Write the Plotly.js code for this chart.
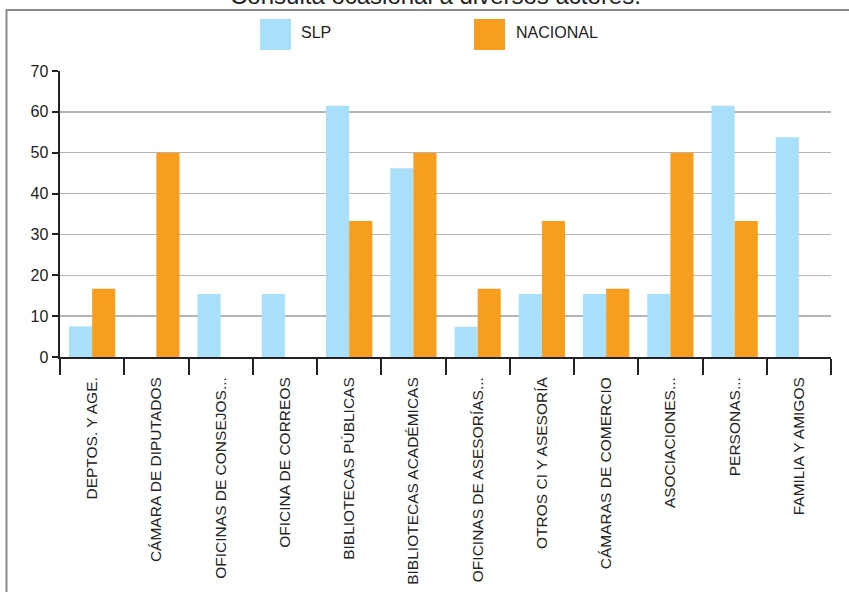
<!DOCTYPE html>
<html>
<head>
<meta charset="utf-8">
<script src="https://cdn.plot.ly/plotly-3.0.1.min.js"></script>
<style>
html,body{margin:0;padding:0;background:#fff;}
#chart{width:849px;height:592px;}
</style>
</head>
<body>
<div id="chart"></div>
<script>
const chartTitle = "Consulta ocasional a diversos actores.";
const categories = [
  "DEPTOS. Y AGE.",
  "CÁMARA DE DIPUTADOS",
  "OFICINAS DE CONSEJOS...",
  "OFICINA DE CORREOS",
  "BIBLIOTECAS PÚBLICAS",
  "BIBLIOTECAS ACADÉMICAS",
  "OFICINAS DE ASESORÍAS...",
  "OTROS CI Y ASESORÍA",
  "CÁMARAS DE COMERCIO",
  "ASOCIACIONES...",
  "PERSONAS...",
  "FAMILIA Y AMIGOS"
];
const seriesNames = ["SLP", "NACIONAL"];
const slpValues = [7.5, 0, 15.4, 15.4, 61.5, 46.2, 7.4, 15.4, 15.4, 15.4, 61.5, 53.8];
const nacionalValues = [16.7, 50, 0, 0, 33.3, 50, 16.7, 33.3, 16.7, 50, 33.3, 0];
const yTicks = [0, 10, 20, 30, 40, 50, 60, 70];

const colors = ["#A9E0F9", "#F89E1E"];
const FONT = "'Liberation Sans', Arial, sans-serif";

// pixel -> paper helpers (plot area: x 60..831, y 71..357)
const L = 60, R = 18, T = 71, B = 235, W = 849, H = 592;
const pw = W - L - R, ph = H - T - B;
const px = v => (v - L) / pw;
const py = v => (H - B - v) / ph;

const traces = [
  {type: "bar", name: seriesNames[0], x: categories, y: slpValues,
   marker: {color: colors[0]}, showlegend: false, hoverinfo: "x+y"},
  {type: "bar", name: seriesNames[1], x: categories, y: nacionalValues,
   marker: {color: colors[1]}, showlegend: false, hoverinfo: "x+y"}
];

const shapes = [
  // outer frame
  {type: "rect", xref: "paper", yref: "paper",
   x0: px(6.5), x1: px(880), y0: py(10), y1: py(640),
   line: {color: "#8a8a8a", width: 2}, fillcolor: "rgba(0,0,0,0)", layer: "below"},
  // legend swatches
  {type: "rect", xref: "paper", yref: "paper",
   x0: px(260), x1: px(291), y0: py(50), y1: py(19),
   line: {width: 0}, fillcolor: colors[0]},
  {type: "rect", xref: "paper", yref: "paper",
   x0: px(474), x1: px(505), y0: py(50), y1: py(19),
   line: {width: 0}, fillcolor: colors[1]}
];

const annotations = [
  {xref: "paper", yref: "paper", x: px(435), y: py(-4), xanchor: "center", yanchor: "middle",
   text: chartTitle, showarrow: false, font: {family: FONT, size: 24, color: "#222"}},
  {xref: "paper", yref: "paper", x: px(299), y: py(33), xanchor: "left", yanchor: "middle",
   text: seriesNames[0], showarrow: false, font: {family: FONT, size: 16, color: "#222"}},
  {xref: "paper", yref: "paper", x: px(514), y: py(33), xanchor: "left", yanchor: "middle",
   text: seriesNames[1], showarrow: false, font: {family: FONT, size: 16, color: "#222"}}
];

const layout = {
  width: W, height: H,
  margin: {l: L, r: R, t: T, b: B, pad: 0},
  paper_bgcolor: "#fff", plot_bgcolor: "#fff",
  barmode: "group", bargap: 0.28, bargroupgap: 0,
  showlegend: false,
  font: {family: FONT, size: 15, color: "#222"},
  xaxis: {
    type: "category", tickson: "boundaries",
    ticks: "outside", ticklen: 16, tickwidth: 2, tickcolor: "#222",
    showline: true, linecolor: "#222", linewidth: 2,
    tickangle: -90, ticklabelstandoff: 12,
    tickfont: {family: FONT, size: 15.5, color: "#222"},
    showgrid: false, zeroline: false, fixedrange: true
  },
  yaxis: {
    range: [0, 70], tickmode: "array", tickvals: yTicks, ticktext: yTicks.map(String),
    ticks: "outside", ticklen: 6, tickwidth: 2, tickcolor: "#222",
    showline: true, linecolor: "#222", linewidth: 2.5,
    showgrid: true, gridcolor: "#b5b5b5", gridwidth: 1.5,
    zeroline: false,
    tickfont: {family: FONT, size: 16, color: "#222"}, fixedrange: true
  },
  shapes: shapes,
  annotations: annotations
};

Plotly.newPlot("chart", traces, layout, {displayModeBar: false, staticPlot: true});
</script>
</body>
</html>
